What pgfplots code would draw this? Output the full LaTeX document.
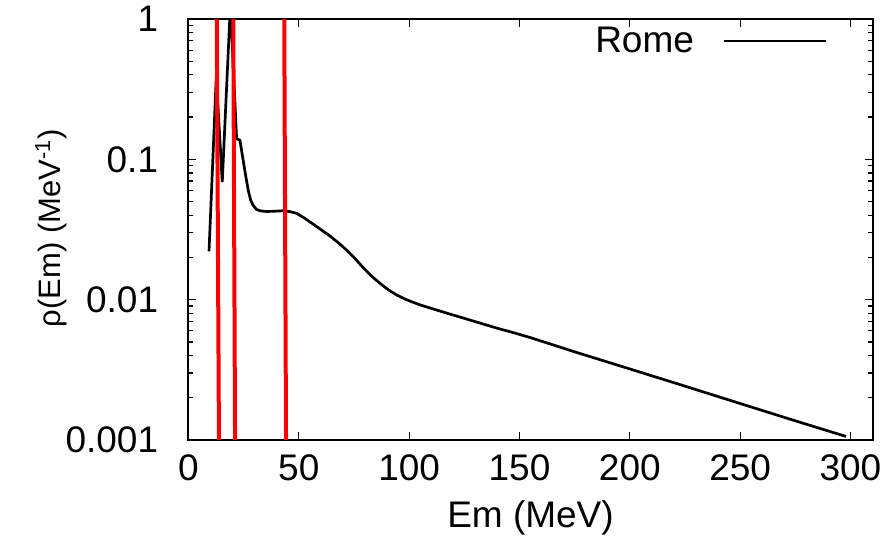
\documentclass[border=0pt]{standalone}
\usepackage{fontspec}
\setmainfont{Liberation Sans}
\usepackage{pgfplots}
\pgfplotsset{compat=1.18}
\begin{document}
\begin{tikzpicture}[font=\fontsize{18.5}{22}\selectfont]
\begin{axis}[
  at={(0,0)}, anchor=south west,
  scale only axis, width=342pt, height=210.5pt,
  ymode=log, xmin=0, xmax=310, ymin=0.001, ymax=1,
  xtick={0,50,...,300},
  ytick={0.001,0.01,0.1,1}, yticklabels={0.001,0.01,0.1,1},
  /pgf/number format/assume math mode=true,
  tick align=inside, tick pos=both,
  major tick length=3.8pt, minor tick length=2.2pt,
  axis line style={line width=1pt},
  every tick/.style={black, line width=0.6pt},
  xticklabel style={inner sep=0pt, anchor=north, yshift=-7pt},
  yticklabel style={inner sep=0pt, anchor=east, xshift=-15pt},
  xlabel={Em (MeV)}, ylabel={ρ(Em) (MeV\textsuperscript{-1})},
  xlabel style={at={(rel axis cs:0.5,-0.1853)}, anchor=center},
  ylabel style={at={(rel axis cs:-0.201,0.5036)}, anchor=center, font=\fontsize{15.5}{18}\selectfont},
  legend plot pos=right,
  legend style={draw=none, fill=none, at={(rel axis cs:0.935,0.948)}, anchor=east, inner sep=0pt, column sep=14.5pt, nodes={inner sep=0pt}},
  legend image code/.code={\draw[#1] (0pt,0pt) -- (51pt,0pt);},
]
\addplot[black, line width=1.35pt] table {
x y
9.3 0.0221
12.6 0.39
15.3 0.069
19.0 1.27
21.8 0.140
23.3 0.137
24.8 0.098
26.0 0.075
27.1 0.060
28.2 0.051
29.3 0.047
30.8 0.0440
32.4 0.0430
35.0 0.0425
38.0 0.0426
42.9 0.0430
46.0 0.0424
49.0 0.0412
52.5 0.0382
56.5 0.0345
60.0 0.0316
64.0 0.0285
68.0 0.0254
71.6 0.0226
75.5 0.0196
79.2 0.0169
83.0 0.0147
86.7 0.0131
90.5 0.01178
94.3 0.01081
98.0 0.01012
101.8 0.00957
105.5 0.00912
109.4 0.00873
116.9 0.00803
124.5 0.00740
132.0 0.00682
139.6 0.00628
147.1 0.00583
154.7 0.00538
175.0 0.00425
200.0 0.00321
225.0 0.00242
250.0 0.00182
275.0 0.00137
298.0 0.00106
};
\addlegendentry{Rome}
\addplot[red, line width=2pt, forget plot] coordinates {(12.8,1) (13.8,0.001)};
\addplot[red, line width=2pt, forget plot] coordinates {(20.3,1) (21.1,0.001)};
\addplot[red, line width=2pt, forget plot] coordinates {(43.4,1) (44.2,0.001)};
\end{axis}
\path[use as bounding box] (-94.25pt,-49pt) rectangle (351.75pt,220pt);
\end{tikzpicture}
\end{document}
